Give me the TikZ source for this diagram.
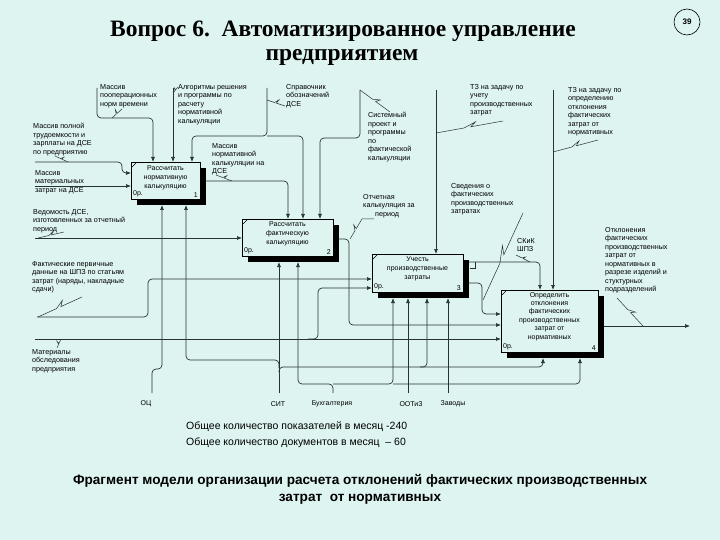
\documentclass[tikz,border=0pt]{standalone}
\usepackage{fontspec}
\setmainfont{Liberation Sans}
\newfontfamily\titlefont{Liberation Serif}
\usetikzlibrary{calc,arrows.meta,shadows}
\definecolor{bgc}{RGB}{221,244,241}
\definecolor{lnc}{RGB}{40,50,50}
\begin{document}
\begin{tikzpicture}[x=1pt,y=-1pt,
  lbl/.style={font=\fontsize{7.2}{8.5}\selectfont, align=left, inner sep=0pt, anchor=north west},
  btxt/.style={font=\fontsize{7}{9}\selectfont, align=center, inner sep=0pt},
  blbl/.style={font=\fontsize{7}{8}\selectfont, inner sep=0pt},
  box/.style={draw=black, line width=0.8pt, fill=bgc, anchor=north west, inner sep=0pt, outer sep=0pt,
    general shadow={fill=black, shadow xshift=6pt, shadow yshift=-6pt}},
  arr/.style={draw=lnc, line width=0.7pt, rounded corners=4pt, -{Latex[length=5pt,width=4pt]}},
  lead/.style={draw=lnc, line width=0.5pt},
  zz/.style={to path={-- ($(\tikztostart)!0.42!(\tikztotarget)$) -- ($($(\tikztostart)!0.6!(\tikztotarget)$)!#1!90:(\tikztotarget)$) -- ($(\tikztostart)!0.52!(\tikztotarget)$) -- (\tikztotarget)}},
  zz/.default=4pt]

\fill[bgc] (0,0) rectangle (720,540);

% title
\node[font=\titlefont\bfseries\fontsize{23.5}{27}\selectfont] (t1) at (343,31) {Вопрос 6.\ \ Автоматизированное управление};
\node[font=\titlefont\bfseries\fontsize{23.5}{27}\selectfont] (t2) at (342,57) {предприятием};
\node[draw, circle, line width=0.6pt, minimum size=26pt, inner sep=0pt, font=\bfseries\fontsize{8}{9}\selectfont] (pg) at (687,22) {39};

% boxes
\node[box, minimum width=69pt, minimum height=37pt] (b1) at (131,162) {};
\node[box, minimum width=91pt, minimum height=37pt] (b2) at (242,219) {};
\node[box, minimum width=91pt, minimum height=38pt] (b3) at (372,254) {};
\node[box, minimum width=97pt, minimum height=62pt] (b4) at (501,290) {};
\foreach \b/\n in {b1/1,b2/2,b3/3,b4/4}{
  \coordinate (s\n) at ($(\b.south east)+(6,6)$);
  \node[btxt, anchor=south west] at ($(\b.south west)+(2,-1.5)$) {0р.};
  \node[btxt, anchor=south east] at ($(\b.south east)+(-2,-1.5)$) {\n};
  \draw[line width=0.5pt] ($(\b.north west)+(1,5)$) -- ($(\b.north west)+(5,1)$);
}
\node[btxt, anchor=north] at ($(b1.north)+(0,3)$) {Рассчитать\\нормативную\\калькуляцию};
\node[btxt, anchor=north] at ($(b2.north)+(0,2.5)$) {Рассчитать\\фактическую\\калькуляцию};
\node[btxt, anchor=north] at ($(b3.north)+(0,2.5)$) {Учесть\\производственные\\затраты};
\node[btxt, anchor=north, font=\fontsize{7}{8.4}\selectfont] at ($(b4.north)+(0,2)$) {Определить\\отклонения\\фактических\\производственных\\затрат от\\нормативных};

% labels
\node[lbl] (l1) at (100,84) {Массив\\пооперационных\\норм времени};
\node[lbl] (l2) at (178,84) {Алгоритмы решения\\и программы по\\расчету\\нормативной\\калькуляции};
\node[lbl] (l3) at (286,84) {Справочник\\обозначений\\ДСЕ};
\node[lbl] (l4) at (368,112) {Системный\\проект и\\программы\\по\\фактической\\калькуляции};
\node[lbl] (l5) at (470,84) {ТЗ на задачу по\\учету\\производственных\\затрат};
\node[lbl] (l6) at (568,87) {ТЗ на задачу по\\определению\\отклонения\\фактических\\затрат от\\нормативных};
\node[lbl] (l7) at (33,123) {Массив полной\\трудоемкости и\\зарплаты на ДСЕ\\по предприятию};
\node[lbl] (l8) at (35,170) {Массив\\материальных\\затрат на ДСЕ};
\node[lbl] (l9) at (212,143) {Массив\\нормативной\\калькуляции на\\ДСЕ};
\node[lbl] (l10) at (33,209) {Ведомость ДСЕ,\\изготовленных за отчетный\\период};
\node[lbl] (l11) at (363,194) {Отчетная\\калькуляция за\\\hspace*{12pt}период};
\node[lbl] (l12) at (451,183) {Сведения о\\фактических\\производственных\\затратах};
\node[lbl] (l13) at (517,238) {СКиК\\ШПЗ};
\node[lbl] (l14) at (32,261) {Фактические первичные\\данные на ШПЗ по статьям\\затрат (наряды, накладные\\сдачи)};
\node[lbl] (l15) at (32,349) {Материалы\\обследования\\предприятия};
\node[lbl] (l16) at (605,227) {Отклонения\\фактических\\производственных\\затрат от\\нормативных в\\разрезе изделий и\\стуктурных\\подразделений};

% controls
\draw[arr] (97,88) -- (97,118) -- (153,118) -- (153,0 |- b1.north);
\draw[lead] (112,118) to[zz] (122,109);
\draw[arr] (173,88) -- (173,0 |- b1.north);
\draw[lead] (173,93) to[zz=2pt] (178,87);
\draw[arr] (267,88) -- (267,136) -- (192,136) -- (192,0 |- b1.north);
\draw[arr] (267,136) -- (303,136) -- (303,0 |- b2.north);
\draw[lead] (267,100) to[zz] (285,106);
\draw[arr] (360,90) -- (360,138) -- (320,138) -- (320,0 |- b2.north);
\draw[lead] (360,90) to[zz] (390,112);
\draw[arr] (s1 |- 0,181) -- (288,181) -- (288,0 |- b2.north);
\draw[lead] (216,175) to[zz=3pt] (232,181);
\draw[arr] (436,90) -- (436,0 |- b3.north);
\draw[lead] (436,133) to[zz] (503,121);
\draw[arr] (553,90) -- (553,0 |- b4.north);
\draw[lead] (553,152) to[zz] (598,140);

% inputs
\draw[arr] (35,162) -- (122,162) -- (122,173) -- (b1.west |- 0,173);
\draw[lead] (55,156) to[zz=2.5pt] (68,162);
\draw[arr] (35,186) -- (b1.west |- 0,186);
\draw[arr] (35,238) -- (b2.west |- 0,238);
\draw[lead] (38,238) to[zz=3pt] (64,232);
\draw[arr] (37,317) -- (148,317) -- (148,279) -- (b3.west |- 0,279);
\draw[lead] (38,317) to[zz=5pt] (82,297);
\draw[arr] (35,339) -- (b4.west |- 0,339);
\draw[arr] (308,339) -- (318,339) -- (318,288) -- (b3.west |- 0,288);
\draw[lead] (57,348) to[zz=2.5pt] (61,339);

% outputs
\draw[arr] (s2 |- 0,239) -- (349,239) -- (349,325) -- (b4.west |- 0,325);
\draw[lead] (350,239) to[zz] (362,219) -- (374,219);
\draw[arr] (s3 |- 0,283) -- (482,283) -- (482,314) -- (b4.west |- 0,314);
\draw[lead] (483,300) to[zz=5pt] (523,213);
\draw[arr] (s3 |- 0,262) -- (540,262) -- (540,0 |- b4.north);
\draw[lead] (470,268) -- (475,268) -- (475,262);
\draw[lead] (516,255) to[zz=2.5pt] (530,262);
\draw[arr] (s4 |- 0,326) -- (690,326);
\draw[lead] (617,298) to[zz] (643,326);

% mechanisms
\draw[arr] (152,393) -- (152,369) -- (162,369) -- (162,0 |- s1);
\draw[arr] (279,393) -- (279,0 |- s2);
\draw[arr] (279,368) -- (279,360) -- (186,360) -- (186,0 |- s1);
\draw[arr] (279,372) -- (279,367) -- (543,367) -- (543,0 |- s4);
\draw[arr] (420,367) -- (427,367) -- (427,0 |- s3);
\draw[arr] (333,393) -- (333,384) -- (298,384) -- (298,0 |- s2);
\draw[arr] (333,384) -- (393,384) -- (393,0 |- s3);
\draw[arr] (393,384) -- (580,384) -- (580,0 |- s4);
\draw[arr] (408,393) -- (408,0 |- s3);
\draw[arr] (448,393) -- (448,0 |- s3);

\node[blbl] (m1) at (146,404) {ОЦ};
\node[blbl] (m2) at (278,404) {СИТ};
\node[blbl] (m3) at (332,404) {Бухгалтерия};
\node[blbl] (m4) at (411,404) {ООТиЗ};
\node[blbl] (m5) at (453,404) {Заводы};

% bottom texts
\node[font=\fontsize{10.5}{13}\selectfont, anchor=west, inner sep=0pt] (n1) at (186,427) {Общее количество показателей в месяц -240};
\node[font=\fontsize{10.5}{13}\selectfont, anchor=west, inner sep=0pt] (n2) at (186,443) {Общее количество документов в месяц\ \ – 60};
\node[font=\bfseries\fontsize{13.6}{17}\selectfont, align=center] (cap) at (360,489) {Фрагмент модели организации расчета отклонений фактических производственных\\затрат\ \ от нормативных};
\end{tikzpicture}
\end{document}
